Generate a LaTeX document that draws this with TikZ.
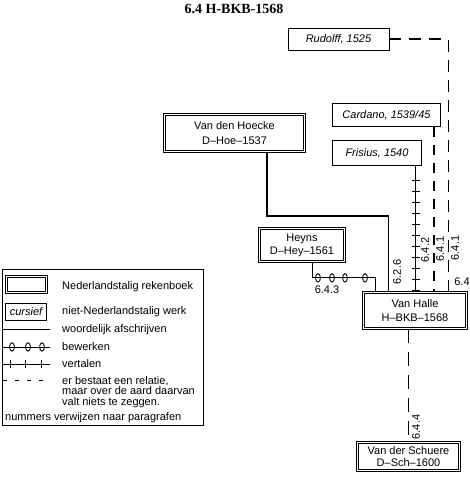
\documentclass[tikz,border=0pt]{standalone}
\usepackage{fontspec}
\setmainfont{Liberation Sans}
\newfontfamily\titelfont{Liberation Serif}
\usetikzlibrary{decorations.markings}

\tikzset{
  dutchbook/.style={draw, double, double distance=1.4pt, line width=0.7pt, align=center, inner sep=0pt},
  foreignbook/.style={draw, line width=0.9pt, inner sep=0pt, font=\fontsize{11}{14}\selectfont\itshape},
  letterlijk/.style={line width=1.3pt},
  relatie/.style={line width=1.1pt, dash pattern=on 12pt off 8pt},
  vertaal/.style 2 args={line width=1pt, postaction={decorate, decoration={markings,
      mark=between positions #1 and -2pt step #2 with {\draw[line width=0.9pt] (0,-4pt) -- (0,4pt);}}}},
  bewerkt at/.style={postaction={decorate, decoration={markings,
      mark=at position #1 with {\draw[line width=0.9pt] (0,0) ellipse [x radius=2.4pt, y radius=4.2pt];}}}},
  paragraaf/.style={font=\fontsize{11}{12}\selectfont, inner sep=0pt},
  legtext/.style={anchor=west, inner sep=0pt}
}

\begin{document}
\begin{tikzpicture}[x=1pt, y=-1pt, font=\fontsize{11}{14}\selectfont]
\useasboundingbox (0,0) rectangle (470,482);

% title
\node[font=\titelfont\bfseries\fontsize{14}{16}\selectfont] (titel) at (234,9) {6.4 H-BKB-1568};

% non-Dutch sources (italic, single frame)
\node[foreignbook, minimum width=101, minimum height=22] (rudolff) at (338.5,39) {Rudolff, 1525};
\node[foreignbook, minimum width=108, minimum height=23] (cardano) at (386.5,115) {Cardano, 1539/45};
\node[foreignbook, minimum width=89, minimum height=25] (frisius) at (377,153) {Frisius, 1540};

% Dutch arithmetic books (double frame)
\node[dutchbook, minimum width=140, minimum height=37] (hoecke) at (234.5,133) {Van den Hoecke\\[1pt]D--Hoe--1537};
\node[dutchbook, minimum width=85, minimum height=33] (heyns) at (302,245) {Heyns\\[-1pt]D--Hey--1561};
\node[dutchbook, minimum width=103, minimum height=36] (vhalle) at (415,310.5) {Van Halle\\H--BKB--1568};
\node[dutchbook, minimum width=102, minimum height=28] (schuere) at (408.5,456.5) {Van der Schuere\\[-2pt]D--Sch--1600};

% relations into Van Halle
\draw[letterlijk] ([xshift=32.5pt]hoecke.south) -- ++(0,64) -| ([xshift=25.5pt]vhalle.north west);
\draw[line width=1pt, bewerkt at/.list={22pt,36pt,49pt,69pt}]
  ([xshift=10pt]heyns.south) -- ++(0,16) -| ([xshift=12.5pt]vhalle.north west);
\draw[vertaal={14pt}{11pt}] ([xshift=-6pt]frisius.south east) -- ([xshift=-6pt]frisius.south east |- vhalle.north);
\draw[relatie, dash pattern=on 10pt off 8pt] ([xshift=-7pt]cardano.south east) -- ([xshift=-7pt]cardano.south east |- vhalle.north);
\draw[relatie] (rudolff.east) -| ([xshift=-18.5pt]vhalle.north east);

% relation out of Van Halle
\draw[relatie, dash pattern=on 14pt off 9pt] (vhalle.south -| schuere.north) -- (schuere.north);

% paragraph numbers
\node[paragraaf, rotate=90] (p626) at (397,272) {6.2.6};
\node[paragraaf, rotate=90] (p642) at (425,250) {6.4.2};
\node[paragraaf, rotate=90] (p641a) at (440,249) {6.4.1};
\node[paragraaf, rotate=90] (p641b) at (455,248) {6.4.1};
\node[paragraaf] (p64) at (462,282) {6.4};
\node[paragraaf] (p643) at (327,290) {6.4.3};
\node[paragraaf, rotate=90] (p644) at (416,427) {6.4.4};

% legend
\draw[line width=0.9pt] (2,269) rectangle (203,425);
\node[dutchbook, minimum width=40, minimum height=16] (legdutch) at (26.5,284.5) {};
\node[legtext] (tdutch) at (62,287) {Nederlandstalig rekenboek};
\node[foreignbook, minimum width=41, minimum height=17] (legforeign) at (26,312) {cursief};
\node[legtext] (tforeign) at (62,312) {niet-Nederlandstalig werk};
\draw[line width=0.9pt] (3,329) -- (50,329);
\node[legtext] (tletter) at (62,330) {woordelijk afschrijven};
\draw[line width=0.8pt, bewerkt at/.list={9pt,25pt,39pt}] (3,347) -- (50,347);
\node[legtext] (tbewerk) at (62,347) {bewerken};
\draw[vertaal={7pt}{15.5pt}, line width=0.8pt] (3,364) -- (50,364);
\node[legtext] (tvertaal) at (62,364) {vertalen};
\draw[line width=0.7pt, dash pattern=on 4pt off 8pt] (3,380) -- (50,380);
\node[anchor=north west, inner sep=0pt, align=left, font=\fontsize{11}{10.5}\selectfont] (trelatie) at (62,376)
  {er bestaat een relatie,\\maar over de aard daarvan\\valt niets te zeggen.};
\node[legtext] (tnummers) at (5,418) {nummers verwijzen naar paragrafen};
\end{tikzpicture}
\end{document}
